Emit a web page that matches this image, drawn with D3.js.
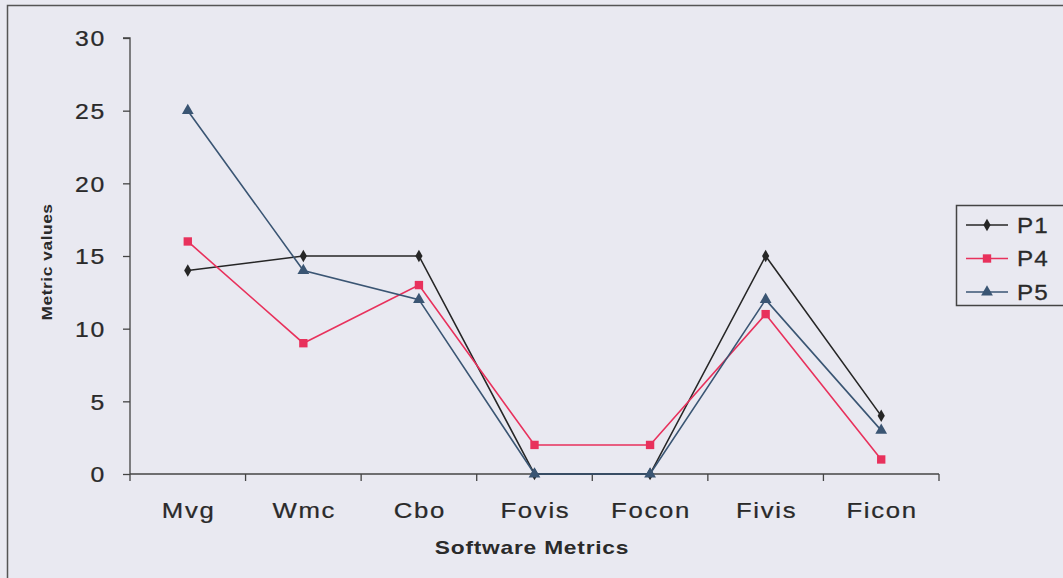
<!DOCTYPE html>
<html><head><meta charset="utf-8">
<script src="https://cdn.jsdelivr.net/npm/d3@7"></script>
<style>
html,body{margin:0;padding:0;background:#e9e9f1;}
svg{display:block;}
text{font-family:"Liberation Sans",Arial,sans-serif;fill:#2a2a2a;}
</style></head>
<body>
<svg id="chart" width="1063" height="578"></svg>
<script>
const categories = ["Mvg","Wmc","Cbo","Fovis","Focon","Fivis","Ficon"];
const seriesNames = ["P1","P4","P5"];
const p1Values = [14,15,15,0,0,15,4];
const p4Values = [16,9,13,2,2,11,1];
const p5Values = [25,14,12,0,0,12,3];
const yTicks = [0,5,10,15,20,25,30];
const colors = {P1:"#262626", P4:"#e8315c", P5:"#3a5573"};
const symbols = {P1:d3.symbolDiamond, P4:d3.symbolSquare, P5:d3.symbolTriangle};

const series = [
  {name:"P1", values:p1Values},
  {name:"P4", values:p4Values},
  {name:"P5", values:p5Values}
];

const svg = d3.select("#chart");
svg.append("rect").attr("width",1063).attr("height",578).attr("fill","#e9e9f1");
// outer frame
svg.append("path").attr("d","M7.5,578 V5.5 H1063").attr("fill","none").attr("stroke","#555").attr("stroke-width",1.5);

const x0 = 130, x1 = 939, yTop = 38, yBot = 474;
const x = d3.scaleBand().domain(categories).range([x0,x1]).padding(0);
const y = d3.scaleLinear().domain([0,30]).range([yBot,yTop]);
const ink = "#2a2a2a";

// y axis
const yAxis = d3.axisLeft(y).tickValues(yTicks).tickSize(7).tickPadding(10);
const gy = svg.append("g").attr("transform",`translate(${x0},0)`).call(yAxis);
gy.select(".domain").attr("stroke","#444").attr("stroke-width",1.3).attr("d",`M-7,${yTop}H0V${yBot}`);
gy.selectAll(".tick line").attr("stroke","#444").attr("stroke-width",1.3);
gy.selectAll(".tick text").attr("font-size",21.5).attr("font-family","Liberation Sans, Arial, sans-serif")
  .attr("fill",ink).attr("stroke",ink).attr("stroke-width",0.25)
  .attr("x",0).attr("dy","0.36em")
  .attr("transform","translate(-24,0) scale(1.15,1)")
  .style("letter-spacing","1.5px");

// x axis
const xAxis = d3.axisBottom(x).tickSize(0).tickPadding(28);
const gx = svg.append("g").attr("transform",`translate(0,${yBot})`).call(xAxis);
gx.select(".domain").attr("stroke","#444").attr("stroke-width",1.3).attr("d",`M${x0},0H${x1}`);
gx.selectAll(".tick text").attr("font-size",23).attr("font-family","Liberation Sans, Arial, sans-serif")
  .attr("fill",ink).attr("stroke",ink).attr("stroke-width",0.25)
  .attr("dx","0.8").attr("transform","scale(1.12,1)").style("letter-spacing","1.5px");
// tick marks between categories
const bounds = categories.map(c=>x(c)).concat([x1]);
svg.append("g").selectAll("line").data(bounds).join("line")
  .attr("x1",d=>d).attr("x2",d=>d).attr("y1",yBot).attr("y2",yBot+7)
  .attr("stroke","#444").attr("stroke-width",1.3);

// axis titles
svg.append("text").attr("transform","translate(532,554) scale(1.3,1)").attr("text-anchor","middle")
  .attr("font-size",17.5).attr("font-weight","bold").style("letter-spacing","0.6px").text("Software Metrics");
svg.append("text").attr("transform","translate(52,262) rotate(-90) scale(1.12,1)").attr("text-anchor","middle")
  .attr("font-size",15.5).attr("font-weight","bold").style("letter-spacing","0.5px").text("Metric values");

const cx = c => x(c) + x.bandwidth()/2;
const line = d3.line().x((d,i)=>cx(categories[i])).y(d=>y(d));

const gs = svg.append("g");
series.forEach(s=>{
  gs.append("path").datum(s.values).attr("d",line).attr("fill","none")
    .attr("stroke",colors[s.name]).attr("stroke-width",1.6);
});
series.forEach(s=>{
  const size = s.name==="P4"?70:(s.name==="P5"?60:45);
  gs.append("g").selectAll("path").data(s.values).join("path")
    .attr("transform",(d,i)=>`translate(${cx(categories[i])},${y(d)})`)
    .attr("d",d3.symbol().type(symbols[s.name]).size(size))
    .attr("fill",colors[s.name]);
});

// legend
const lg = svg.append("g");
lg.append("rect").attr("x",956.5).attr("y",205.5).attr("width",120).attr("height",100)
  .attr("fill","none").attr("stroke","#444").attr("stroke-width",1.5);
series.forEach((s,i)=>{
  const ly = 225 + i*33.5;
  lg.append("line").attr("x1",966).attr("x2",1008).attr("y1",ly).attr("y2",ly)
    .attr("stroke",colors[s.name]).attr("stroke-width",1.6);
  const size = s.name==="P4"?70:(s.name==="P5"?60:45);
  lg.append("path").attr("transform",`translate(987,${ly})`)
    .attr("d",d3.symbol().type(symbols[s.name]).size(size)).attr("fill",colors[s.name]);
  lg.append("text").attr("transform",`translate(1017,${ly}) scale(1.1,1)`).attr("dy","0.36em")
    .attr("font-size",22).attr("stroke",ink).attr("stroke-width",0.3)
    .style("letter-spacing","1px").text(s.name);
});
</script>
</body></html>
